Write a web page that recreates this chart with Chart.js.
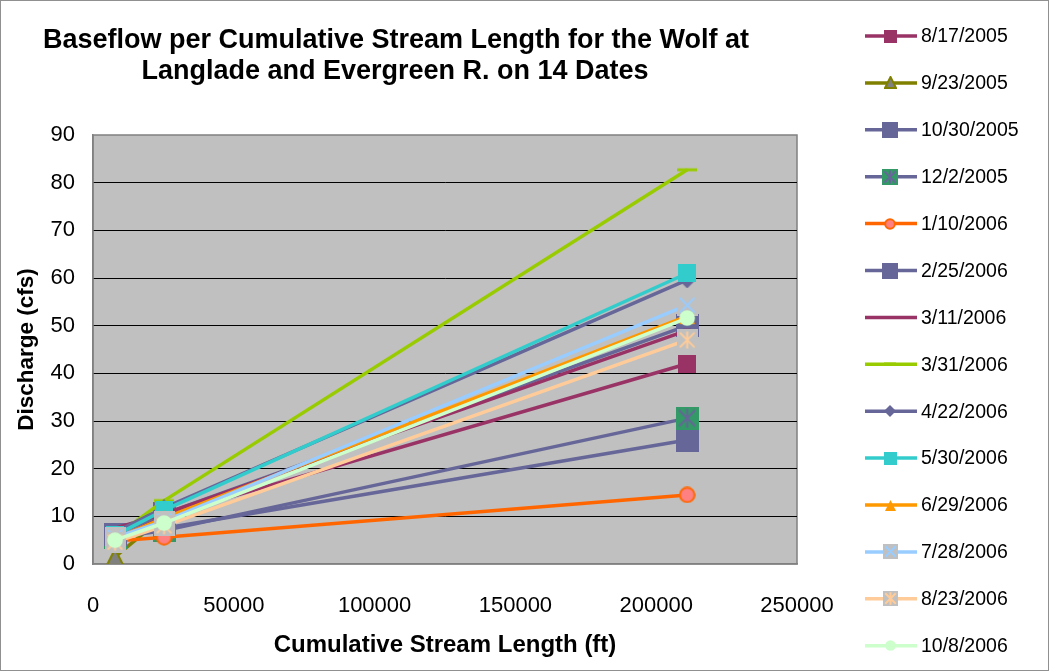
<!DOCTYPE html>
<html>
<head>
<meta charset="utf-8">
<script src="https://cdn.jsdelivr.net/npm/chart.js@4.4.1/dist/chart.umd.min.js"></script>
<style>
  body { margin: 0; background: #fff; }
  canvas { display: block; }
</style>
</head>
<body>
<canvas id="baseflowChart" width="1049" height="671"></canvas>
<script>
// === Data ===
const streamLength = [7820, 25250, 211000];
const dateLabels = [
  "8/17/2005", "9/23/2005", "10/30/2005", "12/2/2005", "1/10/2006",
  "2/25/2006", "3/11/2006", "3/31/2006", "4/22/2006", "5/30/2006",
  "6/29/2006", "7/28/2006", "8/23/2006", "10/8/2006",
];
const q_20050817 = [5.2, 10.0, 42.0];
const q_20050923 = [1.5, 10.0, null];
const q_20051030 = [6.0, 7.5, 26.0];
const q_20051202 = [5.5, 7.0, 30.6];
const q_20060110 = [4.8, 5.6, 14.5];
const q_20060225 = [6.2, 10.5, 50.0];
const q_20060311 = [7.5, 10.5, 49.0];
const q_20060331 = [5.8, 13.3, 82.7];
const q_20060422 = [6.7, 11.8, 59.6];
const q_20060530 = [6.0, 11.3, 61.0];
const q_20060629 = [5.3, 9.6, 52.0];
const q_20060728 = [5.6, 9.0, 54.3];
const q_20060823 = [4.6, 8.0, 47.0];
const q_20061008 = [5.0, 8.6, 51.6];

const yTicks = [0, 10, 20, 30, 40, 50, 60, 70, 80, 90];

const seriesValues = [
  q_20050817, q_20050923, q_20051030, q_20051202, q_20060110,
  q_20060225, q_20060311, q_20060331, q_20060422, q_20060530,
  q_20060629, q_20060728, q_20060823, q_20061008,
];

// === Styles ===
const styles = [
  { line: "#993366", kind: "square", fill: "#993366", size: 18 },
  { line: "#808000", kind: "triangle", fill: "#808080", stroke: "#808000", size: 18 },
  { line: "#666699", kind: "square", fill: "#666699", size: 23 },
  { line: "#666699", kind: "starbox", fill: "#339966", stroke: "#666699", size: 23 },
  { line: "#FF6600", kind: "circle", fill: "#FF8080", stroke: "#FF6600", size: 17 },
  { line: "#666699", kind: "square", fill: "#666699", size: 23 },
  { line: "#993366", kind: "dash", fill: "#993366", size: 8 },
  { line: "#99CC00", kind: "dash", fill: "#99CC00", size: 20 },
  { line: "#666699", kind: "diamond", fill: "#666699", size: 17 },
  { line: "#33CCCC", kind: "square", fill: "#33CCCC", size: 18 },
  { line: "#FF9900", kind: "triangle", fill: "#FF9900", size: 18 },
  { line: "#99CCFF", kind: "xbox", fill: "#C0C0C0", stroke: "#99CCFF", size: 21 },
  { line: "#FFCC99", kind: "starbox", fill: "#C0C0C0", stroke: "#FFCC99", size: 21 },
  { line: "#CCFFCC", kind: "circle", fill: "#CCFFCC", size: 18 },
];

function makeMarker(st, size) {
  const c = document.createElement("canvas");
  const s = Math.round(size);
  c.width = s;
  c.height = s;
  const g = c.getContext("2d");
  const h = s / 2;
  g.fillStyle = st.fill;
  g.strokeStyle = st.stroke || st.fill;
  if (st.kind === "square") {
    g.fillRect(0, 0, s, s);
  } else if (st.kind === "triangle") {
    g.beginPath();
    g.moveTo(h, 1);
    g.lineTo(s - 1, s - 1);
    g.lineTo(1, s - 1);
    g.closePath();
    g.fill();
    if (st.stroke) { g.lineWidth = 2; g.stroke(); }
  } else if (st.kind === "circle") {
    g.beginPath();
    g.arc(h, h, h - 1.2, 0, Math.PI * 2);
    g.fill();
    if (st.stroke) { g.lineWidth = 2; g.stroke(); }
  } else if (st.kind === "diamond") {
    g.beginPath();
    g.moveTo(h, 0);
    g.lineTo(s, h);
    g.lineTo(h, s);
    g.lineTo(0, h);
    g.closePath();
    g.fill();
  } else if (st.kind === "dash") {
    g.fillRect(0, h - 1.5, s, 3);
  } else if (st.kind === "xbox" || st.kind === "starbox") {
    g.fillRect(0, 0, s, s);
    g.lineWidth = 2;
    const m = s * 0.15;
    g.beginPath();
    g.moveTo(m, m); g.lineTo(s - m, s - m);
    g.moveTo(s - m, m); g.lineTo(m, s - m);
    if (st.kind === "starbox") {
      g.moveTo(h, m * 0.6); g.lineTo(h, s - m * 0.6);
    }
    g.stroke();
  }
  return c;
}

const chartMarkers = styles.map((st) => makeMarker(st, st.size));
const legendMarkers = styles.map((st) =>
  makeMarker(st, st.kind === "dash" ? st.size * 0.6 : st.size * 0.7)
);

const datasets = dateLabels.map((label, i) => ({
  label: label,
  data: streamLength.map((x, j) => ({ x: x, y: seriesValues[i][j] })),
  borderColor: styles[i].line,
  backgroundColor: styles[i].line,
  borderWidth: 3.5,
  pointStyle: chartMarkers[i],
  pointRadius: styles[i].size / 2,
  pointHoverRadius: styles[i].size / 2,
  showLine: true,
  spanGaps: false,
  order: dateLabels.length - i,
}));

// === Frame, plot background, title, legend ===
const framePlugin = {
  id: "frame",
  beforeDraw(chart) {
    const { ctx, chartArea: a } = chart;
    ctx.save();
    ctx.fillStyle = "#fff";
    ctx.fillRect(0, 0, chart.width, chart.height);
    ctx.fillStyle = "#C0C0C0";
    ctx.fillRect(a.left, a.top, a.right - a.left, a.bottom - a.top);
    ctx.strokeStyle = "#808080";
    ctx.lineWidth = 1.5;
    ctx.strokeRect(a.left, a.top, a.right - a.left, a.bottom - a.top);
    ctx.strokeStyle = "#909090";
    ctx.lineWidth = 1;
    ctx.strokeRect(0.5, 0.5, chart.width - 1, chart.height - 1);
    ctx.restore();
  },
  afterDraw(chart) {
    const ctx = chart.ctx;
    ctx.save();
    ctx.fillStyle = "#000";
    ctx.textAlign = "center";
    ctx.textBaseline = "alphabetic";
    ctx.font = "bold 27px Arial, 'Liberation Sans', sans-serif";
    ctx.fillText("Baseflow per Cumulative Stream Length for the Wolf at", 396, 48);
    ctx.fillText("Langlade and Evergreen R. on 14 Dates", 395, 79);

    // legend
    ctx.textAlign = "left";
    ctx.textBaseline = "middle";
    ctx.font = "19.5px Arial, 'Liberation Sans', sans-serif";
    dateLabels.forEach((label, i) => {
      const y = 36 + i * 46.9;
      ctx.strokeStyle = styles[i].line;
      ctx.lineWidth = 3.5;
      ctx.beginPath();
      ctx.moveTo(865, y);
      ctx.lineTo(917, y);
      ctx.stroke();
      const m = legendMarkers[i];
      ctx.drawImage(m, Math.round(890 - m.width / 2), Math.round(y - m.height / 2));
      ctx.fillStyle = "#000";
      ctx.fillText(label, 921, y + 1);
    });
    ctx.restore();
  },
};

const ctx = document.getElementById("baseflowChart").getContext("2d");
window.baseflowChart = new Chart(ctx, {
  type: "scatter",
  data: { datasets: datasets },
  plugins: [framePlugin],
  options: {
    responsive: false,
    animation: false,
    layout: { padding: { top: 135, right: 252, left: 0, bottom: 0 } },
    plugins: {
      legend: { display: false },
      tooltip: { enabled: false },
    },
    scales: {
      x: {
        type: "linear",
        min: 0,
        max: 250000,
        afterFit: (scale) => { scale.height = 107; },
        ticks: {
          stepSize: 50000,
          color: "#000",
          font: { family: "Arial, 'Liberation Sans', sans-serif", size: 22 },
          padding: 29,
          maxRotation: 0,
          callback: (v) => String(v),
        },
        grid: { display: false, drawTicks: false },
        border: { display: true, color: "#808080", width: 1.5 },
        title: {
          display: true,
          text: "Cumulative Stream Length (ft)",
          color: "#000",
          font: { family: "Arial, 'Liberation Sans', sans-serif", size: 24, weight: "bold" },
          padding: { top: 0, bottom: 11 },
        },
      },
      y: {
        min: 0,
        max: 90,
        afterFit: (scale) => { scale.width = 93; },
        afterBuildTicks: (scale) => { scale.ticks = yTicks.map((v) => ({ value: v })); },
        ticks: {
          color: "#000",
          font: { family: "Arial, 'Liberation Sans', sans-serif", size: 22 },
          padding: 18,
        },
        grid: {
          drawTicks: false,
          color: (c) => (c.tick && (c.tick.value === 0 || c.tick.value === 90) ? "rgba(0,0,0,0)" : "#000"),
          lineWidth: 1,
        },
        border: { display: true, color: "#808080", width: 1.5 },
        title: {
          display: true,
          text: "Discharge (cfs)",
          color: "#000",
          font: { family: "Arial, 'Liberation Sans', sans-serif", size: 22.5, weight: "bold" },
          padding: { top: 13, bottom: 0 },
        },
      },
    },
  },
});
</script>
</body>
</html>
